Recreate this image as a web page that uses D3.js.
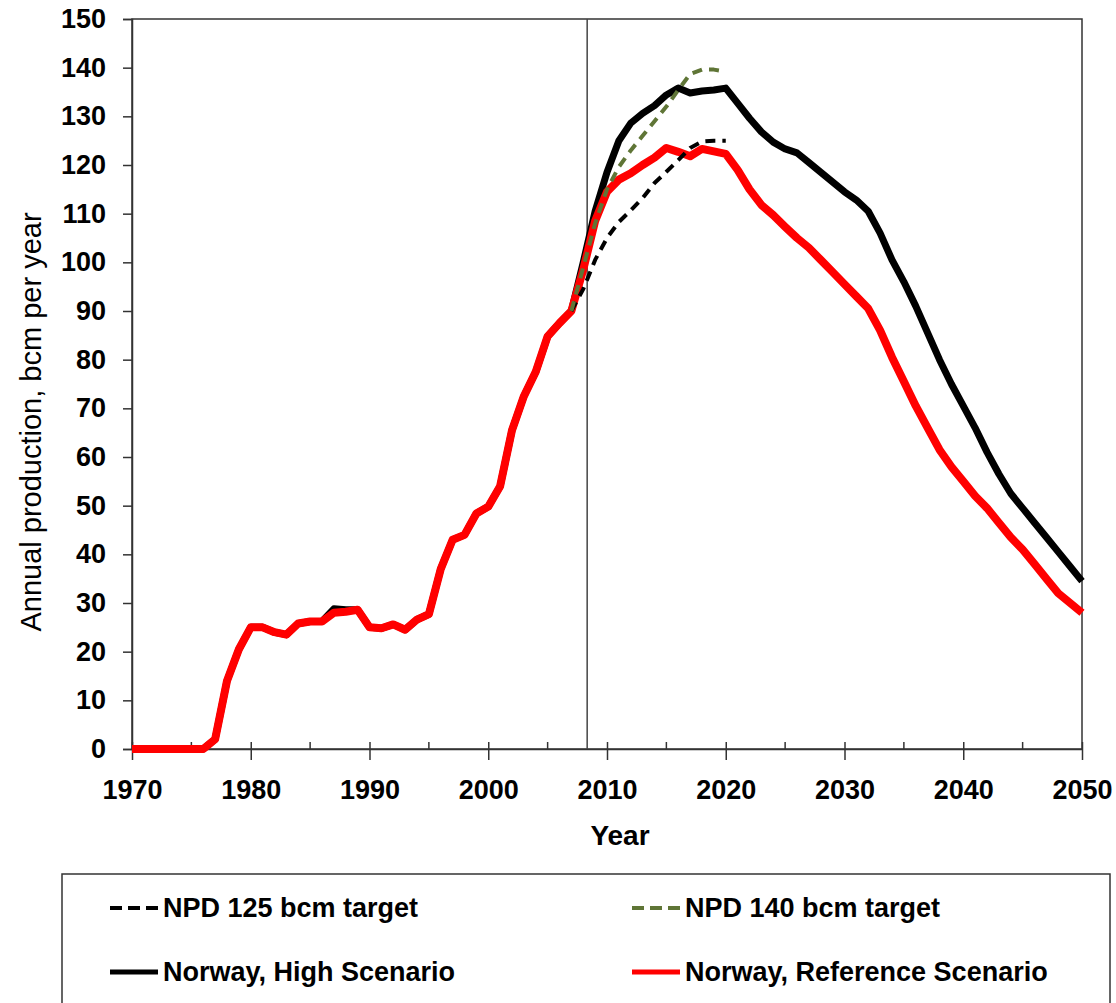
<!DOCTYPE html>
<html>
<head>
<meta charset="utf-8">
<script src="https://cdn.jsdelivr.net/npm/d3@7"></script>
<style>
  body { margin: 0; background: #fff; }
  text { font-family: "Liberation Sans", Arial, sans-serif; }
</style>
</head>
<body>
<div id="chart"></div>
<script>

// x positions are years, one value per year
const years = d3.range(1970, 2051);

const referenceScenario = [
  0, 0, 0, 0, 0, 0, 0, 2, 14, 20.5,
  25, 25, 24, 23.5, 25.8, 26.2, 26.2, 28, 28.2, 28.6,
  25, 24.8, 25.6, 24.5, 26.6, 27.7, 37, 43, 44, 48.4,
  49.8, 54, 65.5, 72.5, 77.5, 84.8, 87.5, 90, 98.5, 108.5,
  114.5, 117, 118.3, 120, 121.5, 123.5, 122.7, 121.8, 123.3, 122.8,
  122.3, 119, 115, 111.8, 109.7, 107.3, 105, 103, 100.5, 98,
  95.5, 93, 90.5, 86, 80.5, 75.5, 70.5, 66, 61.5, 58,
  55, 52, 49.5, 46.5, 43.5, 41, 38, 35, 32, 30,
  28
];

const highScenario = [
  0, 0, 0, 0, 0, 0, 0, 2, 14, 20.5,
  25, 25, 24, 23.5, 25.8, 26.2, 26.2, 28.8, 28.6, 28.6,
  25, 24.8, 25.6, 24.5, 26.6, 27.7, 37, 43, 44, 48.4,
  49.8, 54, 65.5, 72.5, 77.5, 84.8, 87.5, 90, 100, 110.5,
  118.5, 125, 128.6, 130.6, 132.2, 134.4, 135.8, 134.8, 135.2, 135.4,
  135.8, 132.7, 129.6, 126.8, 124.7, 123.3, 122.5, 120.5, 118.5, 116.5,
  114.5, 112.8, 110.5, 106, 100.5, 96, 91, 85.5, 80, 75,
  70.5, 66, 61, 56.5, 52.5, 49.5, 46.5, 43.5, 40.5, 37.5,
  34.5
];

const npdYears = [2007, 2008, 2009, 2010, 2011, 2012, 2013, 2014, 2015, 2016, 2017, 2018, 2019, 2020];
const npd125 = [90, 94.5, 100.5, 105, 108.3, 110.7, 113.2, 116.3, 118.6, 121, 123.5, 124.8, 125, 125];
const npd140 = [90, 99, 108, 115, 119.6, 123, 126, 129, 132, 135.4, 138.7, 139.6, 139.6, 139.2];

const yTicks = d3.range(0, 151, 10);
const xTicks = [1970, 1980, 1990, 2000, 2010, 2020, 2030, 2040, 2050];
const xMinorTicks = [1975, 1985, 1995, 2005, 2015, 2025, 2035, 2045];
const markerYear = 2008.33;

const W = 1116, H = 1003;
const plot = {left: 132, top: 19, right: 1082, bottom: 749};
const fontFamily = "Liberation Sans, Arial, sans-serif";

const x = d3.scaleLinear().domain([1970, 2050]).range([plot.left, plot.right]);
const y = d3.scaleLinear().domain([0, 150]).range([plot.bottom, plot.top]);

const svg = d3.select("#chart").append("svg")
  .attr("width", W)
  .attr("height", H);

// frame
svg.append("rect")
  .attr("x", plot.left).attr("y", plot.top)
  .attr("width", plot.right - plot.left)
  .attr("height", plot.bottom - plot.top)
  .attr("fill", "none")
  .attr("stroke", "#333")
  .attr("stroke-width", 1.5);

// y axis
const yAxis = d3.axisLeft(y).tickValues(yTicks).tickSize(9).tickPadding(17);
svg.append("g")
  .attr("transform", "translate(" + plot.left + ",0)")
  .call(yAxis)
  .call(g => g.select(".domain").attr("stroke", "#333").attr("stroke-width", 1.5))
  .call(g => g.selectAll(".tick line").attr("stroke", "#333").attr("stroke-width", 1.5))
  .call(g => g.selectAll(".tick text")
    .attr("font-size", 27).attr("font-weight", "bold").attr("fill", "#000")
    .attr("font-family", fontFamily));

// x axis, major ticks cross the axis
const xAxis = d3.axisBottom(x).tickValues(xTicks).tickFormat(d3.format("d"))
  .tickSizeInner(11).tickSizeOuter(0).tickPadding(20);
svg.append("g")
  .attr("transform", "translate(0," + plot.bottom + ")")
  .call(xAxis)
  .call(g => g.select(".domain").attr("stroke", "#333").attr("stroke-width", 1.5))
  .call(g => g.selectAll(".tick line").attr("y1", -7).attr("stroke", "#333").attr("stroke-width", 1.5))
  .call(g => g.selectAll(".tick text")
    .attr("font-size", 27).attr("font-weight", "bold").attr("fill", "#000")
    .attr("font-family", fontFamily));

// minor ticks, inside only
svg.append("g").selectAll("line")
  .data(xMinorTicks)
  .join("line")
  .attr("x1", d => x(d)).attr("x2", d => x(d))
  .attr("y1", plot.bottom - 7).attr("y2", plot.bottom)
  .attr("stroke", "#333").attr("stroke-width", 1.5);

// 2008 marker
svg.append("line")
  .attr("x1", x(markerYear)).attr("x2", x(markerYear))
  .attr("y1", plot.top).attr("y2", plot.bottom)
  .attr("stroke", "#444").attr("stroke-width", 1.5);

const line = d3.line().x(d => x(d[0])).y(d => y(d[1]));

const series = [
  {name: "Norway, High Scenario", xs: years, ys: highScenario, color: "#000", width: 7, dash: null},
  {name: "Norway, Reference Scenario", xs: years, ys: referenceScenario, color: "#ff0000", width: 8, dash: null},
  {name: "NPD 125 bcm target", xs: npdYears, ys: npd125, color: "#000", width: 4, dash: "10,7"},
  {name: "NPD 140 bcm target", xs: npdYears, ys: npd140, color: "#5f7536", width: 4, dash: "10,7"}
];

svg.append("g").selectAll("path")
  .data(series)
  .join("path")
  .attr("d", s => line(s.xs.map((yr, i) => [yr, s.ys[i]])))
  .attr("fill", "none")
  .attr("stroke", s => s.color)
  .attr("stroke-width", s => s.width)
  .attr("stroke-linejoin", "round")
  .attr("stroke-dasharray", s => s.dash);

// axis titles
svg.append("text")
  .attr("x", (plot.left + plot.right) / 2 + 13)
  .attr("y", 845)
  .attr("text-anchor", "middle")
  .attr("font-size", 28).attr("font-weight", "bold")
  .text("Year");

svg.append("text")
  .attr("transform", "translate(41," + 422 + ") rotate(-90)")
  .attr("text-anchor", "middle")
  .attr("font-size", 29)
  .text("Annual production, bcm per year");

// legend
svg.append("rect")
  .attr("x", 62).attr("y", 874)
  .attr("width", 1048).attr("height", 140)
  .attr("fill", "#fff")
  .attr("stroke", "#333").attr("stroke-width", 1.5);

const legendItems = [
  {s: series[2], lx: 110, ly: 908},
  {s: series[3], lx: 632, ly: 908},
  {s: series[0], lx: 110, ly: 972},
  {s: series[1], lx: 632, ly: 972}
];

const leg = svg.append("g").selectAll("g")
  .data(legendItems)
  .join("g")
  .attr("transform", d => "translate(" + d.lx + "," + d.ly + ")");

leg.append("line")
  .attr("x1", 0).attr("x2", 48)
  .attr("stroke", d => d.s.color)
  .attr("stroke-width", d => d.s.dash ? 4 : 5)
  .attr("stroke-dasharray", d => d.s.dash ? "12,6" : null);

leg.append("text")
  .attr("x", 53).attr("dy", "0.35em")
  .attr("font-size", 27).attr("font-weight", "bold")
  .text(d => d.s.name);

</script>
</body>
</html>
